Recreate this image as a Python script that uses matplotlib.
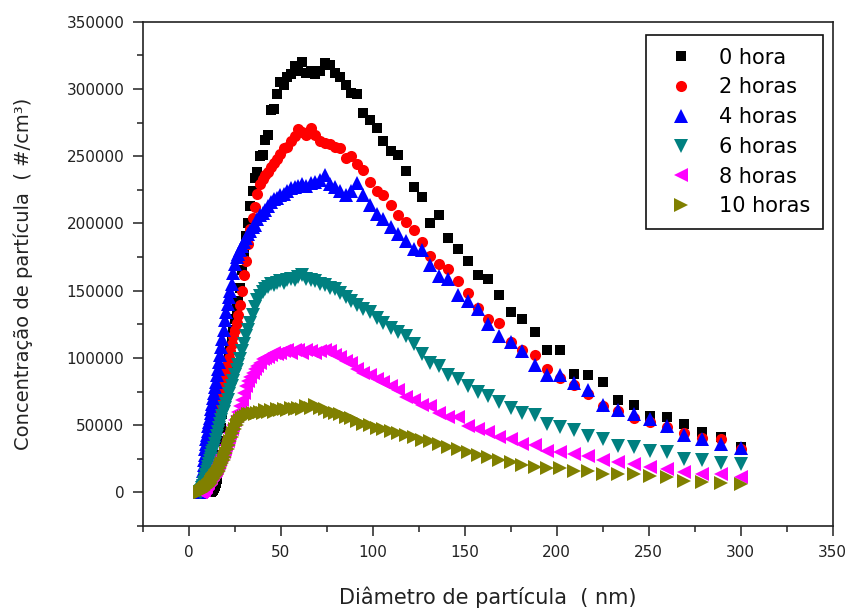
import matplotlib
matplotlib.use("Agg")
import matplotlib.pyplot as plt
from matplotlib.ticker import MultipleLocator, FuncFormatter
import numpy as np

# particle diameter (nm), SMPS channels
diam = [6.19, 6.41, 6.65, 6.89, 7.14, 7.40, 7.67, 7.95, 8.24, 8.54,
        8.85, 9.18, 9.51, 9.86, 10.2, 10.6, 11.0, 11.4, 11.8, 12.2,
        12.7, 13.1, 13.6, 14.1, 14.6, 15.2, 15.7, 16.3, 16.9, 17.5,
        18.2, 18.8, 19.5, 20.2, 21.0, 21.7, 22.5, 23.3, 24.2, 25.1,
        26.0, 26.9, 27.9, 29.0, 30.0, 31.1, 32.3, 33.4, 34.7, 35.9,
        37.2, 38.6, 40.0, 41.5, 43.0, 44.6, 46.2, 47.9, 49.7, 51.5,
        53.4, 55.3, 57.4, 59.5, 61.6, 63.9, 66.2, 68.7, 71.2, 73.8,
        76.5, 79.3, 82.2, 85.2, 88.3, 91.5, 94.9, 98.4, 102.0, 105.7,
        109.6, 113.6, 117.8, 122.1, 126.5, 131.2, 136.0, 141.0, 146.1, 151.5,
        157.0, 162.8, 168.7, 174.9, 181.3, 187.9, 194.8, 202.0, 209.4, 217.0,
        225.0, 233.2, 241.8, 250.6, 259.8, 269.3, 279.2, 289.4, 300.0]

# concentrations in thousands of #/cm3
conc_0h = [0, 0, 0, 0, 0, 0, 0, 0, 0, 0,
           0, 0, 0, 0, 0, 0, 0, 0, 0, 0.5,
           1, 2, 3, 5, 7, 10, 18, 28, 38, 48,
           58, 66, 75, 84, 92, 99, 106, 114, 121, 129,
           136, 142, 152, 165, 178, 191, 200, 213, 224, 234,
           238, 250, 251, 262, 266, 284, 285, 296, 305, 303,
           309, 311, 317, 313, 320, 312, 313, 311, 313, 319,
           318, 312, 309, 303, 297, 296, 282, 277, 271, 261,
           254, 251, 239, 227, 220, 200, 206, 189, 181, 172,
           162, 159, 147, 134, 129, 119, 106, 106, 88, 87,
           82, 69, 65, 57, 56, 51, 45, 41, 34]

conc_2h = [0, 1, 2, 3, 4, 6, 8, 10, 12, 14,
           16, 18, 20, 22, 24, 27, 30, 33, 36, 39,
           42, 45, 48, 51, 54, 58, 62, 66, 70, 74,
           78, 82, 86, 91, 96, 100, 105, 110, 116, 121,
           126, 132, 139, 150, 162, 172, 185, 196, 204, 212,
           222, 229, 233, 236, 238, 242, 245, 248, 252, 256,
           257, 261, 265, 270, 268, 266, 271, 266, 261, 260,
           259, 257, 256, 249, 250, 244, 240, 231, 224, 221,
           214, 206, 201, 195, 186, 176, 170, 166, 157, 148,
           137, 129, 126, 112, 106, 102, 92, 85, 80, 73,
           64, 60.5, 55.5, 52, 48.7, 44, 40.5, 40, 32.5]

conc_4h = [0, 1, 3, 6, 9, 12, 16, 20, 24, 28,
           32, 36, 40, 43, 46, 49, 52, 55, 59, 62,
           66, 70, 74, 78, 82, 87, 92, 97, 102, 108,
           114, 121, 128, 134, 140, 145, 150, 155, 163, 170,
           175, 177, 180, 183, 186, 189, 192, 194, 197, 199,
           203, 206, 208, 210, 213, 216, 218, 219, 221, 222,
           224, 226, 227, 228, 229, 228, 230, 231, 232, 236,
           229, 227, 224, 221, 224, 230, 221, 214, 207, 203,
           197, 192, 187, 181, 180, 169, 161, 159, 147, 142,
           136, 125, 116, 112, 105, 95, 87, 87, 81, 76,
           65, 61.5, 58, 54.5, 49.5, 42.5, 40, 35.7, 33.3]

conc_6h = [0, 0.5, 1, 2, 3, 4, 5, 6, 7, 8,
           10, 12, 13, 15, 17, 19, 21, 23, 25, 27,
           29, 31, 33, 36, 39, 42, 45, 48, 51, 54,
           57, 60, 63, 66, 69, 73, 76, 79, 83, 87,
           91, 95, 99, 105, 110, 116, 121, 126, 132, 138,
           143, 146, 149, 151, 153, 155, 154, 156, 157, 156,
           158, 159, 158, 160, 162, 159, 158, 157, 155, 154,
           152, 151, 148, 145, 142, 139, 136, 134, 130, 126,
           122, 119, 116, 110, 103, 96, 94, 87, 84, 79,
           75, 72, 67.5, 62.5, 59, 57.5, 51, 48.7, 46.2, 41.7,
           40, 34.3, 33.7, 31, 30, 25, 23.8, 21.7, 21.2]

conc_8h = [0, 0, 0.5, 1, 1, 1.5, 2, 2, 3, 3,
           4, 4, 5, 6, 7, 8, 9, 10, 11, 12,
           13, 14, 15, 16, 17, 18, 20, 22, 24, 26,
           28, 30, 32, 35, 38, 41, 44, 47, 50, 54,
           57, 60, 64, 69, 74, 79, 83, 86, 89, 92,
           94, 96, 99, 100, 101, 102, 104, 103, 104, 105,
           106, 104, 106, 106, 104, 106, 105, 104, 105, 106,
           105, 102, 101, 98, 96, 92, 89, 87, 84, 82,
           79, 76, 71, 69, 65, 64, 59, 56, 56, 49,
           47.5, 45, 41, 40, 36, 35, 31, 29.7, 28.3, 26.7,
           23.8, 22.5, 21.2, 18.7, 17.5, 15, 13.8, 13.8, 11.2]

conc_10h = [0, 0.5, 0.5, 1, 1, 1.5, 2, 2, 2.5, 3,
            3, 3.5, 4, 4, 4.5, 5, 5.5, 6, 7, 8,
            9, 10, 11, 12, 13, 14, 15, 16, 18, 20,
            22, 24, 26, 29, 32, 35, 38, 41, 44, 47,
            50, 52, 54, 55, 56, 57, 58, 58, 59, 58,
            59, 60, 59, 61, 60, 61, 60, 62, 61, 62,
            61, 63, 62, 63, 62, 64, 63, 65, 63, 62,
            60, 59, 58, 56, 55, 53, 51, 50, 48, 47,
            46, 44, 43, 41, 39, 38.5, 36, 34, 32, 30,
            28, 26, 24, 22.5, 20.5, 19, 18, 18, 16.2, 15.7,
            13.8, 13.3, 13.3, 12.5, 11.2, 8.3, 7.5, 6.7, 6.3]

labels = ["0 hora", "2 horas", "4 horas", "6 horas", "8 horas", "10 horas"]
series = [conc_0h, conc_2h, conc_4h, conc_6h, conc_8h, conc_10h]
colors = ["#000000", "#FF0000", "#0000FF", "#008080", "#FF00FF", "#808000"]
markers = ["s", "o", "^", "v", "<", ">"]
msizes = [7.5, 8, 10.5, 10.5, 10.5, 10.5]

fig = plt.figure(figsize=(8.53, 6.10), dpi=100)
ax = fig.add_axes([0.1676, 0.1377, 0.8086, 0.8267])

for vals, lab, c, m, ms in zip(series, labels, colors, markers, msizes):
    ax.plot(diam, np.array(vals) * 1000, linestyle="none", marker=m,
            markersize=ms, color=c, markeredgewidth=0, label=lab)

ax.set_xlim(-25, 350)
ax.set_ylim(-25000, 350000)
ax.xaxis.set_major_locator(MultipleLocator(50))
ax.xaxis.set_minor_locator(MultipleLocator(25))
ax.yaxis.set_major_locator(MultipleLocator(50000))
ax.yaxis.set_minor_locator(MultipleLocator(25000))
ax.yaxis.set_major_formatter(FuncFormatter(lambda v, p: f"{v:.0f}"))

ax.tick_params(which="major", direction="out", length=7.5, width=1.1,
               labelsize=11, pad=6, colors="#222222")
ax.tick_params(which="minor", direction="out", length=4, width=1.1, colors="#222222")
for sp in ax.spines.values():
    sp.set_linewidth(1.2)
    sp.set_color("#222222")

ax.set_xlabel("Diâmetro de partícula  ( nm)", fontsize=15, color="#222222", labelpad=19)
ax.set_ylabel("Concentração de partícula  ( #/cm³)", fontsize=14, color="#222222", labelpad=24)

leg = ax.legend(loc="upper right", bbox_to_anchor=(823 / 853, 1 - 35 / 610),
                bbox_transform=fig.transFigure, fontsize=15, frameon=True,
                fancybox=False, framealpha=1, edgecolor="#111111",
                handlelength=2.1, handletextpad=0.8, borderpad=0.6,
                labelspacing=0.47, borderaxespad=0)
leg.get_frame().set_linewidth(1.2)

fig.savefig("out.png", dpi=100)
